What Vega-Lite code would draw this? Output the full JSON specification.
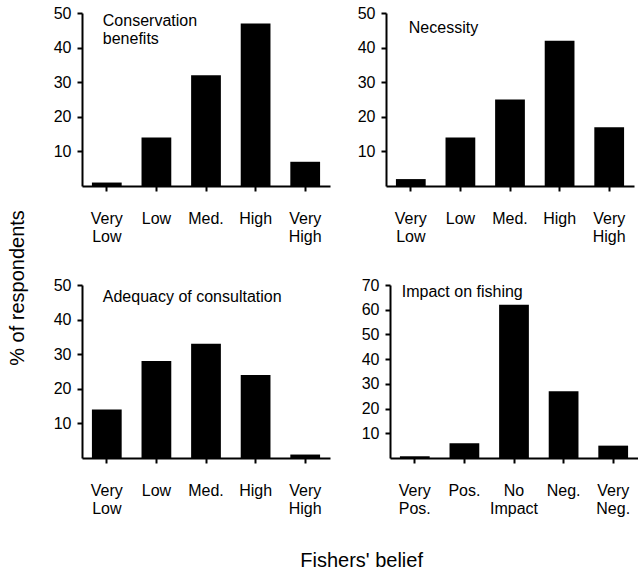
{
  "$schema": "https://vega.github.io/schema/vega-lite/v6.json",
  "background": "white",
  "padding": {"left": 8, "top": 5, "right": 0, "bottom": 0},
  "config": {
    "font": "Liberation Sans",
    "view": {"stroke": null},
    "axis": {
      "domainColor": "black", "domainWidth": 2, "tickColor": "black", "tickWidth": 2, "tickSize": 5,
      "labelFont": "Liberation Sans", "labelFontSize": 16, "labelColor": "black", "grid": false, "title": null,
      "labelOverlap": false
    },
    "axisX": {"labelAngle": 0, "labelPadding": 19, "labelLineHeight": 18, "labelExpr": "split(datum.label, ' ')"},
    "axisY": {"labelPadding": 6},
    "bar": {"color": "black"},
    "text": {"font": "Liberation Sans", "fontSize": 16, "color": "black", "align": "left", "baseline": "top", "lineHeight": 18},
    "title": {"font": "Liberation Sans", "fontWeight": "normal", "color": "black"}
  },
  "datasets": {
    "belief": [
      {"panel": "cons", "level": "Very Low", "pct": 1},
      {"panel": "cons", "level": "Low", "pct": 14},
      {"panel": "cons", "level": "Med.", "pct": 32},
      {"panel": "cons", "level": "High", "pct": 47},
      {"panel": "cons", "level": "Very High", "pct": 7},
      {"panel": "nec", "level": "Very Low", "pct": 2},
      {"panel": "nec", "level": "Low", "pct": 14},
      {"panel": "nec", "level": "Med.", "pct": 25},
      {"panel": "nec", "level": "High", "pct": 42},
      {"panel": "nec", "level": "Very High", "pct": 17},
      {"panel": "adeq", "level": "Very Low", "pct": 14},
      {"panel": "adeq", "level": "Low", "pct": 28},
      {"panel": "adeq", "level": "Med.", "pct": 33},
      {"panel": "adeq", "level": "High", "pct": 24},
      {"panel": "adeq", "level": "Very High", "pct": 1},
      {"panel": "imp", "level": "Very Pos.", "pct": 0.7},
      {"panel": "imp", "level": "Pos.", "pct": 6},
      {"panel": "imp", "level": "No Impact", "pct": 62},
      {"panel": "imp", "level": "Neg.", "pct": 27},
      {"panel": "imp", "level": "Very Neg.", "pct": 5}
    ]
  },
  "title": {"text": "% of respondents", "orient": "left", "anchor": "middle", "fontSize": 20, "offset": 25},
  "hconcat": [
    {
      "title": {"text": "Fishers' belief", "orient": "bottom", "anchor": "middle", "fontSize": 20, "offset": 35, "dx": 16},
      "spacing": 33,
      "vconcat": [
        {
          "spacing": 27,
          "hconcat": [
            {
              "width": 248, "height": 173,
              "layer": [
                {
                  "data": {"name": "belief"},
                  "transform": [{"filter": "datum.panel === 'cons'"}],
                  "mark": "bar",
                  "encoding": {
                    "x": {"field": "level", "type": "nominal", "sort": ["Very Low", "Low", "Med.", "High", "Very High"], "scale": {"paddingInner": 0.4, "paddingOuter": 0.2}},
                    "y": {"field": "pct", "type": "quantitative", "scale": {"domain": [0, 50], "nice": false}, "axis": {"values": [10, 20, 30, 40, 50], "tickCount": 10}}
                  }
                },
                {
                  "data": {"values": [{}]},
                  "mark": {"type": "text", "text": ["Conservation", "benefits"], "dx": -4, "dy": 0},
                  "encoding": {"x": {"datum": "Very Low"}, "y": {"datum": 50}}
                }
              ]
            },
            {
              "width": 248, "height": 173,
              "layer": [
                {
                  "data": {"name": "belief"},
                  "transform": [{"filter": "datum.panel === 'nec'"}],
                  "mark": "bar",
                  "encoding": {
                    "x": {"field": "level", "type": "nominal", "sort": ["Very Low", "Low", "Med.", "High", "Very High"], "scale": {"paddingInner": 0.4, "paddingOuter": 0.2}},
                    "y": {"field": "pct", "type": "quantitative", "scale": {"domain": [0, 50], "nice": false}, "axis": {"values": [10, 20, 30, 40, 50], "tickCount": 10}}
                  }
                },
                {
                  "data": {"values": [{}]},
                  "mark": {"type": "text", "text": "Necessity", "dx": -2, "dy": 7},
                  "encoding": {"x": {"datum": "Very Low"}, "y": {"datum": 50}}
                }
              ]
            }
          ]
        },
        {
          "spacing": 31,
          "hconcat": [
            {
              "width": 248, "height": 173,
              "layer": [
                {
                  "data": {"name": "belief"},
                  "transform": [{"filter": "datum.panel === 'adeq'"}],
                  "mark": "bar",
                  "encoding": {
                    "x": {"field": "level", "type": "nominal", "sort": ["Very Low", "Low", "Med.", "High", "Very High"], "scale": {"paddingInner": 0.4, "paddingOuter": 0.2}},
                    "y": {"field": "pct", "type": "quantitative", "scale": {"domain": [0, 50], "nice": false}, "axis": {"values": [10, 20, 30, 40, 50], "tickCount": 10}}
                  }
                },
                {
                  "data": {"values": [{}]},
                  "mark": {"type": "text", "text": "Adequacy of consultation", "dx": -4, "dy": 4},
                  "encoding": {"x": {"datum": "Very Low"}, "y": {"datum": 50}}
                }
              ]
            },
            {
              "width": 248, "height": 173,
              "layer": [
                {
                  "data": {"name": "belief"},
                  "transform": [{"filter": "datum.panel === 'imp'"}],
                  "mark": "bar",
                  "encoding": {
                    "x": {"field": "level", "type": "nominal", "sort": ["Very Pos.", "Pos.", "No Impact", "Neg.", "Very Neg."], "scale": {"paddingInner": 0.4, "paddingOuter": 0.2}},
                    "y": {"field": "pct", "type": "quantitative", "scale": {"domain": [0, 70], "nice": false}, "axis": {"values": [10, 20, 30, 40, 50, 60, 70], "tickCount": 10}}
                  }
                },
                {
                  "data": {"values": [{}]},
                  "mark": {"type": "text", "text": "Impact on fishing", "dx": -13, "dy": -1},
                  "encoding": {"x": {"datum": "Very Pos."}, "y": {"datum": 70}}
                }
              ]
            }
          ]
        }
      ]
    }
  ]
}
